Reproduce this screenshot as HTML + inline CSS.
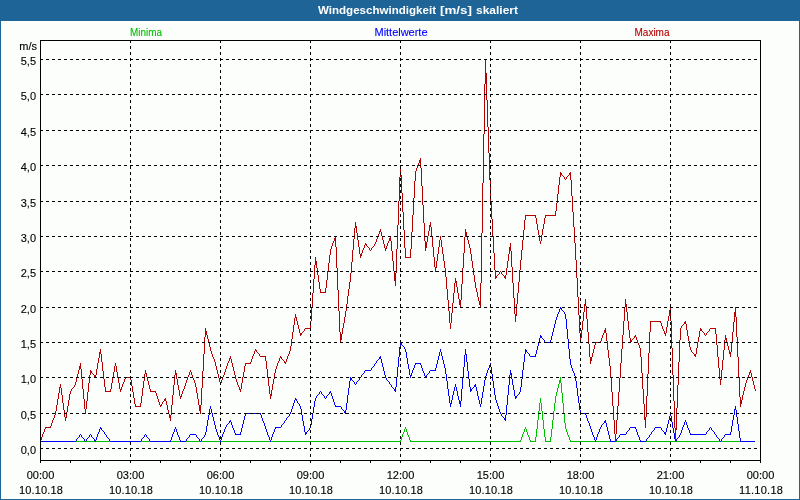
<!DOCTYPE html>
<html><head><meta charset="utf-8"><title>Windgeschwindigkeit</title>
<style>
html,body{margin:0;padding:0;width:800px;height:500px;overflow:hidden;background:#1E6496;}
svg{display:block;position:absolute;left:0;top:0;will-change:transform;}
text{font-family:"Liberation Sans",sans-serif;font-size:11px;fill:#000;stroke:#000;stroke-width:0.12px;}
.t{font-weight:bold;fill:#fff;stroke:none;}
.g{stroke:#000;stroke-width:1;stroke-dasharray:3 3;fill:none;}
</style></head><body>
<svg width="800" height="500" viewBox="0 0 800 500" shape-rendering="crispEdges">
<rect x="0" y="0" width="800" height="500" fill="#1E6496"/>
<rect x="1" y="21" width="798" height="478" fill="#FBFEFB"/>
<text class="t" x="318" y="14" textLength="118" lengthAdjust="spacingAndGlyphs">Windgeschwindigkeit</text>
<text class="t" x="440" y="14" textLength="32" lengthAdjust="spacingAndGlyphs">[m/s]</text>
<text class="t" x="476" y="14" textLength="42" lengthAdjust="spacingAndGlyphs">skaliert</text>
<text x="130" y="36" style="fill:#00C000;stroke:#00C000" textLength="32" lengthAdjust="spacingAndGlyphs">Minima</text>
<text x="374.5" y="36" style="fill:#0000FF;stroke:#0000FF" textLength="53" lengthAdjust="spacing">Mittelwerte</text>
<text x="634.5" y="36" style="fill:#B40000;stroke:#B40000" textLength="35" lengthAdjust="spacingAndGlyphs">Maxima</text>
<path fill="#00C000" d="M40 441h361v1h-361zM410 441h111v1h-111zM530 441h6v1h-6zM545 441h6v1h-6zM570 441h185v1h-185zM559 381h2v1h-2zM559 382h2v1h-2zM559 380h2v1h-2zM554 403v8h1v-8zM553 411v9h1v-9zM543 420v9h1v-9zM565 423v6h1v-6zM558 384v4h1v-4zM555 396v7h1v-7zM537 420v9h1v-9zM541 403v8h1v-8zM521 437v3h1v-3zM535 437v4h1v-4zM564 413v10h1v-10zM568 435v2h1v-2zM536 429v8h1v-8zM542 411v9h1v-9zM562 393v10h1v-10zM552 420v9h1v-9zM539 403v8h1v-8zM550 437v4h1v-4zM528 435v2h1v-2zM561 383v10h1v-10zM544 429v8h1v-8zM525 427v2h1v-2zM563 403v10h1v-10zM520 440v1h1v-1zM557 388v4h1v-4zM406 429v3h1v-3zM551 429v8h1v-8zM566 429v3h1v-3zM403 432v2h1v-2zM409 437v3h1v-3zM556 392v4h1v-4zM529 437v3h1v-3zM569 437v3h1v-3zM545 437v4h1v-4zM538 411v9h1v-9zM401 437v3h1v-3zM523 432v2h1v-2zM567 432v3h1v-3zM410 440v1h1v-1zM402 434v3h1v-3zM407 432v3h1v-3zM527 432v3h1v-3zM559 383v1h1v-1zM560 377v3h1v-3zM408 435v2h1v-2zM405 427v2h1v-2zM570 440v1h1v-1zM540 398v5h1v-5zM404 429v3h1v-3zM524 429v3h1v-3zM526 429v3h1v-3zM522 434v3h1v-3zM400 440v1h1v-1zM530 440v1h1v-1z"/>
<path fill="#0000FF" d="M344 412h2v1h-2zM335 406h6v1h-6zM504 419h2v1h-2zM40 441h36v1h-36zM110 441h31v1h-31zM150 441h21v1h-21zM180 441h6v1h-6zM610 441h6v1h-6zM640 441h6v1h-6zM740 441h15v1h-15zM394 389h2v1h-2zM470 389h2v1h-2zM675 439h2v1h-2zM515 397h2v1h-2zM305 433h2v1h-2zM664 433h2v1h-2zM365 370h6v1h-6zM430 370h6v1h-6zM604 422h2v1h-2zM410 375h2v1h-2zM425 376h2v1h-2zM510 373h2v1h-2zM465 354h2v1h-2zM525 351h2v1h-2zM94 440h2v1h-2zM675 440h2v1h-2zM305 432h2v1h-2zM664 432h2v1h-2zM394 390h2v1h-2zM470 390h2v1h-2zM474 386h2v1h-2zM275 427h6v1h-6zM630 427h6v1h-6zM655 427h6v1h-6zM400 343h2v1h-2zM459 401h2v1h-2zM190 434h6v1h-6zM235 434h6v1h-6zM620 434h6v1h-6zM690 434h16v1h-16zM725 434h6v1h-6zM504 418h2v1h-2zM400 344h2v1h-2zM415 363h6v1h-6zM350 378h2v1h-2zM245 413h16v1h-16zM580 413h6v1h-6zM489 366h2v1h-2zM510 374h2v1h-2zM229 421h2v1h-2zM604 421h2v1h-2zM540 336h2v1h-2zM515 396h2v1h-2zM459 402h2v1h-2zM474 385h2v1h-2zM350 379h2v1h-2zM329 392h2v1h-2zM489 365h2v1h-2zM100 428h2v1h-2zM525 350h2v1h-2zM734 409h2v1h-2zM545 342h6v1h-6zM379 358h2v1h-2zM379 357h2v1h-2zM450 403h2v1h-2zM459 403h2v1h-2zM530 356h6v1h-6zM295 399h2v1h-2zM560 308h2v1h-2zM540 337h2v1h-2zM344 411h2v1h-2zM491 367v7h1v-7zM292 406v3h1v-3zM314 401v6h1v-6zM311 419v6h1v-6zM577 388v8h1v-8zM494 388v7h1v-7zM94 439v1h1v-1zM721 439v2h1v-2zM690 433v1h1v-1zM487 370v3h1v-3zM682 427v3h1v-3zM219 437v3h1v-3zM588 421v2h1v-2zM468 371v8h1v-8zM509 375v10h1v-10zM445 368v6h1v-6zM599 429v3h1v-3zM529 354v2h1v-2zM465 349v5h1v-5zM86 439v2h1v-2zM706 432v2h1v-2zM521 379v8h1v-8zM98 432v2h1v-2zM456 387v4h1v-4zM668 420v4h1v-4zM357 381v1h1v-1zM464 355v12h1v-12zM537 346v4h1v-4zM177 432v3h1v-3zM732 420v6h1v-6zM570 359v6h1v-6zM93 438v1h1v-1zM216 429v3h1v-3zM607 427v4h1v-4zM234 430v3h1v-3zM349 381v7h1v-7zM736 410v7h1v-7zM674 433v6h1v-6zM212 413v4h1v-4zM683 425v2h1v-2zM552 332v4h1v-4zM510 370v3h1v-3zM407 358v6h1v-6zM373 366v1h1v-1zM310 425v3h1v-3zM606 423v4h1v-4zM208 415v5h1v-5zM574 373v3h1v-3zM82 437v1h1v-1zM567 329v10h1v-10zM272 434v3h1v-3zM241 428v4h1v-4zM303 421v5h1v-5zM651 432v2h1v-2zM482 392v6h1v-6zM383 367v4h1v-4zM540 335v1h1v-1zM222 434v3h1v-3zM467 362v9h1v-9zM640 440v1h1v-1zM384 371v4h1v-4zM89 435v2h1v-2zM478 396v4h1v-4zM716 435v2h1v-2zM544 340v2h1v-2zM739 431v7h1v-7zM196 435v2h1v-2zM719 439v2h1v-2zM146 435v2h1v-2zM493 381v7h1v-7zM448 389v7h1v-7zM441 352v4h1v-4zM81 435v2h1v-2zM720 441v1h1v-1zM399 347v10h1v-10zM636 429v3h1v-3zM451 400v3h1v-3zM188 437v1h1v-1zM348 388v7h1v-7zM463 367v11h1v-11zM242 424v4h1v-4zM447 381v8h1v-8zM97 434v3h1v-3zM376 361v2h1v-2zM519 392v2h1v-2zM100 427v1h1v-1zM333 399v3h1v-3zM731 426v6h1v-6zM667 424v4h1v-4zM689 430v3h1v-3zM666 428v4h1v-4zM104 432v2h1v-2zM462 378v11h1v-11zM371 368v2h1v-2zM481 398v6h1v-6zM218 435v2h1v-2zM587 418v3h1v-3zM261 415v3h1v-3zM302 415v6h1v-6zM422 368v3h1v-3zM414 365v3h1v-3zM410 376v2h1v-2zM671 416v6h1v-6zM455 384v3h1v-3zM149 439v2h1v-2zM738 424v7h1v-7zM267 432v3h1v-3zM598 432v2h1v-2zM499 409v3h1v-3zM409 369v6h1v-6zM77 438v1h1v-1zM591 429v3h1v-3zM539 338v4h1v-4zM461 389v12h1v-12zM576 381v7h1v-7zM398 357v10h1v-10zM512 379v6h1v-6zM524 354v8h1v-8zM470 387v2h1v-2zM470 391v1h1v-1zM207 420v6h1v-6zM263 421v2h1v-2zM356 382v2h1v-2zM274 429v3h1v-3zM536 350v4h1v-4zM211 409v4h1v-4zM609 435v4h1v-4zM424 373v3h1v-3zM397 367v10h1v-10zM436 364v4h1v-4zM172 434v3h1v-3zM511 375v4h1v-4zM508 385v10h1v-10zM555 320v4h1v-4zM309 428v2h1v-2zM573 371v2h1v-2zM469 379v8h1v-8zM559 309v3h1v-3zM176 429v3h1v-3zM450 404v3h1v-3zM522 370v9h1v-9zM639 437v3h1v-3zM608 431v4h1v-4zM473 387v1h1v-1zM402 345v1h1v-1zM271 437v3h1v-3zM240 432v2h1v-2zM723 437v1h1v-1zM95 441v1h1v-1zM221 437v3h1v-3zM99 429v3h1v-3zM233 428v2h1v-2zM444 364v4h1v-4zM352 380v1h1v-1zM507 395v10h1v-10zM385 375v3h1v-3zM480 404v3h1v-3zM449 396v7h1v-7zM492 374v7h1v-7zM566 319v10h1v-10zM226 425v2h1v-2zM440 349v3h1v-3zM386 378v2h1v-2zM523 362v8h1v-8zM144 435v2h1v-2zM406 352v6h1v-6zM206 426v6h1v-6zM313 407v6h1v-6zM359 378v2h1v-2zM443 360v4h1v-4zM680 433v2h1v-2zM282 424v1h1v-1zM597 434v3h1v-3zM412 370v3h1v-3zM454 387v4h1v-4zM466 355v7h1v-7zM735 406v3h1v-3zM684 422v3h1v-3zM405 349v3h1v-3zM569 349v10h1v-10zM542 338v1h1v-1zM96 437v3h1v-3zM579 403v7h1v-7zM76 439v2h1v-2zM673 428v5h1v-5zM543 339v1h1v-1zM217 432v3h1v-3zM718 438v1h1v-1zM321 392v2h1v-2zM477 391v5h1v-5zM427 374v1h1v-1zM458 396v4h1v-4zM538 342v4h1v-4zM317 395v1h1v-1zM578 396v7h1v-7zM669 416v4h1v-4zM84 439v2h1v-2zM476 387v4h1v-4zM681 430v3h1v-3zM506 405v10h1v-10zM413 368v2h1v-2zM435 368v2h1v-2zM565 314v5h1v-5zM619 435v2h1v-2zM554 324v4h1v-4zM457 391v5h1v-5zM301 409v6h1v-6zM269 437v3h1v-3zM558 312v2h1v-2zM568 339v10h1v-10zM627 431v1h1v-1zM141 439v2h1v-2zM332 396v3h1v-3zM262 418v3h1v-3zM514 390v6h1v-6zM688 428v2h1v-2zM270 440v2h1v-2zM293 403v3h1v-3zM734 410v5h1v-5zM197 437v1h1v-1zM649 435v2h1v-2zM423 371v2h1v-2zM347 395v8h1v-8zM711 428v2h1v-2zM106 435v2h1v-2zM243 420v4h1v-4zM586 415v3h1v-3zM495 395v5h1v-5zM213 417v4h1v-4zM273 432v2h1v-2zM661 428v2h1v-2zM205 432v3h1v-3zM171 437v3h1v-3zM446 374v7h1v-7zM737 417v7h1v-7zM592 432v3h1v-3zM266 429v3h1v-3zM396 377v10h1v-10zM665 434v1h1v-1zM575 376v5h1v-5zM175 427v2h1v-2zM312 413v6h1v-6zM498 406v3h1v-3zM378 359v1h1v-1zM679 435v2h1v-2zM281 425v2h1v-2zM596 437v3h1v-3zM201 439v2h1v-2zM484 380v6h1v-6zM232 425v3h1v-3zM453 391v4h1v-4zM362 374v1h1v-1zM572 368v3h1v-3zM439 352v4h1v-4zM79 435v2h1v-2zM442 356v4h1v-4zM408 364v5h1v-5zM637 432v3h1v-3zM707 431v1h1v-1zM346 403v7h1v-7zM404 347v2h1v-2zM350 377v1h1v-1zM350 380v1h1v-1zM638 435v2h1v-2zM304 426v6h1v-6zM411 373v2h1v-2zM328 394v1h1v-1zM479 400v4h1v-4zM388 381v1h1v-1zM460 404v3h1v-3zM483 386v6h1v-6zM672 422v6h1v-6zM381 359v4h1v-4zM189 435v2h1v-2zM316 396v2h1v-2zM297 401v2h1v-2zM300 406v3h1v-3zM341 407v2h1v-2zM686 422v3h1v-3zM438 356v4h1v-4zM459 400v1h1v-1zM173 432v2h1v-2zM513 385v5h1v-5zM710 427v1h1v-1zM342 409v1h1v-1zM687 425v3h1v-3zM354 382v2h1v-2zM585 414v1h1v-1zM626 432v2h1v-2zM557 314v3h1v-3zM209 409v6h1v-6zM323 395v1h1v-1zM284 421v2h1v-2zM452 395v5h1v-5zM391 385v2h1v-2zM733 415v5h1v-5zM85 441v1h1v-1zM497 403v3h1v-3zM265 426v3h1v-3zM520 387v5h1v-5zM392 387v1h1v-1zM215 425v4h1v-4zM490 363v2h1v-2zM429 371v2h1v-2zM326 396v2h1v-2zM400 342v1h1v-1zM400 345v2h1v-2zM594 437v3h1v-3zM268 435v2h1v-2zM174 429v3h1v-3zM501 414v2h1v-2zM595 440v2h1v-2zM199 439v2h1v-2zM108 438v1h1v-1zM663 431v1h1v-1zM200 441v1h1v-1zM319 392v2h1v-2zM426 375v1h1v-1zM109 439v2h1v-2zM264 423v3h1v-3zM361 375v2h1v-2zM395 387v2h1v-2zM395 391v1h1v-1zM525 349v1h1v-1zM525 352v2h1v-2zM629 428v2h1v-2zM315 398v3h1v-3zM180 440v1h1v-1zM334 402v3h1v-3zM580 410v3h1v-3zM556 317v3h1v-3zM291 409v3h1v-3zM187 438v1h1v-1zM485 376v4h1v-4zM295 398v1h1v-1zM287 417v1h1v-1zM364 371v2h1v-2zM437 360v4h1v-4zM709 428v2h1v-2zM551 336v4h1v-4zM563 311v1h1v-1zM528 353v1h1v-1zM298 403v1h1v-1zM486 373v3h1v-3zM564 312v2h1v-2zM602 424v1h1v-1zM245 414v2h1v-2zM299 404v2h1v-2zM500 412v2h1v-2zM421 365v3h1v-3zM670 413v3h1v-3zM325 398v1h1v-1zM308 430v1h1v-1zM496 400v3h1v-3zM590 426v3h1v-3zM654 428v2h1v-2zM425 377v1h1v-1zM214 421v4h1v-4zM722 438v1h1v-1zM210 406v3h1v-3zM179 437v3h1v-3zM502 416v1h1v-1zM628 430v1h1v-1zM503 417v1h1v-1zM286 418v2h1v-2zM275 428v1h1v-1zM715 434v1h1v-1zM225 427v2h1v-2zM290 412v2h1v-2zM186 439v2h1v-2zM294 400v3h1v-3zM601 425v2h1v-2zM488 368v2h1v-2zM244 416v4h1v-4zM374 364v2h1v-2zM202 438v1h1v-1zM535 354v2h1v-2zM730 432v2h1v-2zM145 434v1h1v-1zM382 363v4h1v-4zM685 420v2h1v-2zM740 438v3h1v-3zM220 440v2h1v-2zM589 423v3h1v-3zM170 440v1h1v-1zM224 429v3h1v-3zM331 393v3h1v-3zM90 434v1h1v-1zM345 410v1h1v-1zM345 413v1h1v-1zM289 414v2h1v-2zM593 435v2h1v-2zM91 435v2h1v-2zM650 434v1h1v-1zM377 360v1h1v-1zM713 431v1h1v-1zM505 415v3h1v-3zM505 420v1h1v-1zM327 395v1h1v-1zM571 365v3h1v-3zM714 432v2h1v-2zM717 437v1h1v-1zM600 427v2h1v-2zM415 364v1h1v-1zM235 433v1h1v-1zM724 435v2h1v-2zM231 422v3h1v-3zM553 328v4h1v-4zM227 424v1h1v-1zM603 423v1h1v-1zM204 435v2h1v-2zM610 439v2h1v-2zM360 377v1h1v-1zM330 391v1h1v-1zM142 438v1h1v-1zM318 394v1h1v-1zM230 420v1h1v-1zM617 438v1h1v-1zM708 430v1h1v-1zM80 434v1h1v-1zM647 438v1h1v-1zM387 380v1h1v-1zM329 393v1h1v-1zM677 438v1h1v-1zM260 414v1h1v-1zM515 398v1h1v-1zM229 422v1h1v-1zM616 439v2h1v-2zM103 431v1h1v-1zM107 437v1h1v-1zM662 430v1h1v-1zM646 439v2h1v-2zM518 394v1h1v-1zM285 420v1h1v-1zM88 437v1h1v-1zM550 340v2h1v-2zM320 391v1h1v-1zM489 367v1h1v-1zM375 363v1h1v-1zM324 396v2h1v-2zM83 438v1h1v-1zM389 382v2h1v-2zM561 309v1h1v-1zM288 416v1h1v-1zM562 310v1h1v-1zM527 352v1h1v-1zM105 434v1h1v-1zM178 435v2h1v-2zM143 437v1h1v-1zM358 380v1h1v-1zM648 437v1h1v-1zM475 384v1h1v-1zM296 400v1h1v-1zM403 346v1h1v-1zM652 431v1h1v-1zM203 437v1h1v-1zM322 394v1h1v-1zM223 432v2h1v-2zM353 381v1h1v-1zM390 384v1h1v-1zM560 307v1h1v-1zM78 437v1h1v-1zM198 438v1h1v-1zM712 430v1h1v-1zM678 437v1h1v-1zM372 367v1h1v-1zM305 434v1h1v-1zM428 373v1h1v-1zM605 420v1h1v-1zM380 356v1h1v-1zM283 423v1h1v-1zM343 410v1h1v-1zM355 384v1h1v-1zM92 437v1h1v-1zM393 388v1h1v-1zM228 423v1h1v-1zM420 364v1h1v-1zM335 405v1h1v-1zM87 438v1h1v-1zM635 428v1h1v-1zM472 388v1h1v-1zM517 395v1h1v-1zM363 373v1h1v-1zM675 441v1h1v-1zM618 437v1h1v-1zM307 431v1h1v-1zM653 430v1h1v-1zM101 429v1h1v-1zM102 430v1h1v-1zM147 437v1h1v-1zM148 438v1h1v-1z"/>
<path fill="#B40000" d="M315 261h2v1h-2zM315 264h2v1h-2zM220 382h2v1h-2zM205 333h2v1h-2zM300 333h2v1h-2zM580 333h2v1h-2zM664 333h2v1h-2zM94 375h2v1h-2zM105 391h6v1h-6zM150 391h6v1h-6zM59 387h2v1h-2zM455 281h2v1h-2zM205 331h2v1h-2zM604 331h2v1h-2zM120 389h2v1h-2zM239 389h2v1h-2zM270 395h2v1h-2zM515 315h2v1h-2zM669 315h2v1h-2zM734 315h2v1h-2zM525 215h11v1h-11zM545 215h11v1h-11zM604 330h2v1h-2zM700 330h2v1h-2zM205 332h2v1h-2zM604 332h2v1h-2zM305 328h6v1h-6zM710 328h6v1h-6zM340 337h2v1h-2zM580 337h2v1h-2zM199 407h2v1h-2zM394 278h2v1h-2zM135 406h6v1h-6zM199 406h2v1h-2zM394 277h2v1h-2zM495 277h2v1h-2zM504 277h2v1h-2zM560 174h2v1h-2zM569 174h2v1h-2zM255 350h2v1h-2zM394 275h2v1h-2zM455 282h2v1h-2zM355 227h2v1h-2zM270 394h2v1h-2zM394 276h2v1h-2zM495 276h2v1h-2zM504 276h2v1h-2zM79 368h2v1h-2zM199 410h2v1h-2zM229 358h2v1h-2zM590 358h2v1h-2zM365 244h2v1h-2zM425 244h2v1h-2zM79 366h2v1h-2zM334 239h2v1h-2zM389 239h2v1h-2zM630 341h2v1h-2zM320 292h6v1h-6zM425 243h2v1h-2zM280 357h2v1h-2zM590 357h2v1h-2zM360 255h2v1h-2zM334 238h2v1h-2zM389 238h2v1h-2zM145 373h2v1h-2zM175 373h2v1h-2zM295 317h2v1h-2zM694 354h2v1h-2zM459 302h2v1h-2zM479 302h2v1h-2zM385 248h2v1h-2zM509 248h2v1h-2zM405 257h6v1h-6zM90 372h2v1h-2zM749 372h2v1h-2zM465 235h2v1h-2zM694 355h2v1h-2zM669 311h2v1h-2zM79 367h2v1h-2zM315 263h2v1h-2zM625 306h2v1h-2zM425 245h2v1h-2zM125 377h6v1h-6zM245 363h6v1h-6zM459 304h2v1h-2zM479 304h2v1h-2zM584 304h2v1h-2zM625 304h2v1h-2zM90 371h2v1h-2zM394 274h2v1h-2zM700 329h2v1h-2zM394 273h2v1h-2zM429 225h2v1h-2zM340 336h2v1h-2zM580 336h2v1h-2zM634 336h2v1h-2zM340 338h2v1h-2zM725 338h2v1h-2zM740 402h2v1h-2zM419 162h2v1h-2zM595 342h6v1h-6zM394 280h2v1h-2zM465 234h2v1h-2zM465 233h2v1h-2zM340 339h2v1h-2zM725 339h2v1h-2zM164 399h2v1h-2zM740 403h2v1h-2zM465 232h2v1h-2zM425 247h2v1h-2zM509 247h2v1h-2zM459 303h2v1h-2zM479 303h2v1h-2zM669 310h2v1h-2zM425 242h2v1h-2zM459 300h2v1h-2zM169 416h2v1h-2zM684 322h2v1h-2zM509 249h2v1h-2zM99 353h2v1h-2zM729 353h2v1h-2zM425 246h2v1h-2zM360 254h2v1h-2zM94 376h2v1h-2zM175 374h2v1h-2zM509 250h2v1h-2zM734 316h2v1h-2zM650 321h11v1h-11zM435 267h2v1h-2zM180 396h2v1h-2zM419 161h2v1h-2zM684 323h2v1h-2zM199 409h2v1h-2zM394 279h2v1h-2zM560 173h2v1h-2zM569 173h2v1h-2zM99 352h2v1h-2zM729 352h2v1h-2zM260 356h6v1h-6zM169 415h2v1h-2zM590 360h2v1h-2zM459 301h2v1h-2zM479 301h2v1h-2zM669 313h2v1h-2zM734 313h2v1h-2zM485 76h2v1h-2zM379 231h2v1h-2zM630 340h2v1h-2zM164 400h2v1h-2zM740 400h2v1h-2zM340 335h2v1h-2zM580 335h2v1h-2zM160 405h2v1h-2zM199 405h2v1h-2zM740 401h2v1h-2zM355 226h2v1h-2zM429 226h2v1h-2zM65 417h2v1h-2zM169 417h2v1h-2zM644 417h2v1h-2zM669 312h2v1h-2zM734 312h2v1h-2zM590 359h2v1h-2zM400 175h2v1h-2zM720 379h2v1h-2zM334 240h2v1h-2zM389 240h2v1h-2zM400 176h2v1h-2zM485 75h2v1h-2zM45 427h6v1h-6zM315 262h2v1h-2zM485 78h2v1h-2zM205 334h2v1h-2zM300 334h2v1h-2zM340 334h2v1h-2zM580 334h2v1h-2zM644 419h2v1h-2zM515 314h2v1h-2zM669 314h2v1h-2zM734 314h2v1h-2zM284 362h2v1h-2zM485 77h2v1h-2zM675 429h2v1h-2zM485 80h2v1h-2zM584 305h2v1h-2zM625 305h2v1h-2zM644 418h2v1h-2zM199 408h2v1h-2zM485 79h2v1h-2zM485 82h2v1h-2zM675 428h2v1h-2zM485 81h2v1h-2zM485 83h2v1h-2zM485 73h2v1h-2zM419 160h2v1h-2zM485 74h2v1h-2zM434 257v10h1v-10zM520 260v10h1v-10zM197 393v6h1v-6zM340 332v2h1v-2zM340 340v3h1v-3zM642 373v16h1v-16zM619 378v14h1v-14zM88 383v9h1v-9zM611 378v14h1v-14zM456 283v4h1v-4zM68 400v6h1v-6zM577 278v19h1v-19zM450 323v6h1v-6zM463 253v15h1v-15zM587 319v13h1v-13zM83 389v10h1v-10zM572 196v16h1v-16zM671 321v27h1v-27zM484 84v50h1v-50zM487 100v27h1v-27zM519 270v12h1v-12zM579 315v18h1v-18zM87 392v9h1v-9zM64 410v7h1v-7zM716 334v11h1v-11zM56 405v6h1v-6zM512 267v16h1v-16zM335 236v2h1v-2zM335 241v6h1v-6zM462 268v16h1v-16zM594 345v4h1v-4zM290 346v5h1v-5zM505 275v1h1v-1zM505 278v1h1v-1zM337 268v22h1v-22zM403 212v18h1v-18zM348 289v7h1v-7zM740 397v3h1v-3zM740 404v3h1v-3zM201 388v17h1v-17zM574 227v16h1v-16zM461 284v16h1v-16zM576 260v18h1v-18zM644 404v13h1v-13zM281 358v1h1v-1zM454 283v10h1v-10zM489 153v27h1v-27zM411 232v17h1v-17zM618 392v14h1v-14zM114 366v6h1v-6zM353 239v11h1v-11zM400 165v10h1v-10zM726 340v2h1v-2zM696 348v6h1v-6zM737 337v20h1v-20zM200 411v3h1v-3zM674 401v27h1v-27zM277 363v3h1v-3zM458 293v6h1v-6zM227 363v3h1v-3zM441 240v7h1v-7zM639 345v3h1v-3zM102 362v9h1v-9zM391 241v10h1v-10zM518 282v11h1v-11zM410 249v8h1v-8zM589 344v13h1v-13zM608 350v8h1v-8zM352 250v12h1v-12zM467 236v4h1v-4zM189 372v3h1v-3zM425 241v1h1v-1zM425 248v3h1v-3zM213 357v2h1v-2zM483 134v49h1v-49zM480 283v18h1v-18zM480 305v3h1v-3zM339 311v21h1v-21zM592 353v4h1v-4zM625 299v5h1v-5zM470 248v6h1v-6zM481 233v50h1v-50zM613 406v14h1v-14zM539 235v6h1v-6zM679 340v22h1v-22zM216 366v4h1v-4zM571 180v16h1v-16zM670 307v3h1v-3zM670 316v5h1v-5zM648 353v21h1v-21zM347 296v8h1v-8zM143 381v7h1v-7zM586 306v13h1v-13zM672 348v27h1v-27zM578 297v18h1v-18zM60 384v3h1v-3zM490 180v22h1v-22zM186 380v3h1v-3zM641 357v16h1v-16zM219 378v4h1v-4zM486 84v16h1v-16zM511 251v16h1v-16zM436 261v6h1v-6zM488 127v26h1v-26zM493 236v17h1v-17zM449 311v12h1v-12zM336 247v21h1v-21zM718 357v11h1v-11zM624 307v14h1v-14zM402 193v19h1v-19zM514 298v16h1v-16zM82 379v10h1v-10zM329 255v8h1v-8zM174 375v10h1v-10zM507 261v7h1v-7zM721 370v9h1v-9zM405 248v9h1v-9zM234 371v4h1v-4zM398 201v24h1v-24zM623 321v14h1v-14zM172 395v10h1v-10zM422 186v19h1v-19zM414 181v17h1v-17zM482 183v50h1v-50zM443 254v7h1v-7zM751 373v4h1v-4zM104 379v8h1v-8zM734 317v5h1v-5zM733 322v10h1v-10zM241 383v6h1v-6zM610 366v12h1v-12zM703 332v1h1v-1zM650 322v10h1v-10zM736 317v20h1v-20zM499 272v2h1v-2zM573 212v15h1v-15zM297 321v4h1v-4zM627 312v9h1v-9zM150 389v2h1v-2zM524 220v10h1v-10zM356 228v5h1v-5zM59 388v5h1v-5zM342 328v6h1v-6zM317 268v7h1v-7zM413 198v17h1v-17zM732 332v10h1v-10zM649 332v21h1v-21zM415 171v10h1v-10zM198 399v6h1v-6zM319 282v7h1v-7zM393 261v10h1v-10zM607 341v9h1v-9zM271 390v4h1v-4zM62 395v8h1v-8zM351 262v11h1v-11zM446 277v12h1v-12zM204 337v17h1v-17zM457 287v6h1v-6zM523 230v10h1v-10zM313 279v14h1v-14zM291 339v7h1v-7zM101 354v8h1v-8zM412 215v17h1v-17zM431 227v10h1v-10zM739 377v20h1v-20zM637 340v3h1v-3zM629 330v8h1v-8zM595 343v2h1v-2zM647 374v22h1v-22zM432 237v10h1v-10zM424 223v18h1v-18zM724 340v10h1v-10zM630 338v2h1v-2zM630 342v1h1v-1zM382 236v4h1v-4zM588 332v12h1v-12zM742 395v5h1v-5zM453 293v10h1v-10zM640 348v9h1v-9zM492 219v17h1v-17zM706 333v2h1v-2zM97 363v6h1v-6zM212 354v3h1v-3zM312 293v14h1v-14zM513 283v15h1v-15zM399 177v24h1v-24zM677 385v23h1v-23zM448 300v11h1v-11zM643 389v15h1v-15zM646 396v21h1v-21zM404 230v18h1v-18zM538 230v5h1v-5zM452 303v10h1v-10zM331 246v3h1v-3zM397 225v24h1v-24zM517 293v11h1v-11zM374 244v2h1v-2zM286 359v3h1v-3zM421 168v18h1v-18zM621 349v14h1v-14zM203 354v17h1v-17zM590 361v3h1v-3zM697 342v6h1v-6zM279 358v3h1v-3zM245 364v2h1v-2zM311 307v14h1v-14zM358 240v7h1v-7zM338 290v21h1v-21zM81 369v10h1v-10zM678 362v23h1v-23zM516 304v10h1v-10zM620 363v15h1v-15zM388 241v2h1v-2zM118 378v5h1v-5zM233 367v4h1v-4zM522 240v10h1v-10zM575 243v17h1v-17zM310 321v7h1v-7zM202 371v17h1v-17zM464 237v16h1v-16zM557 194v9h1v-9zM494 253v17h1v-17zM433 247v10h1v-10zM719 368v11h1v-11zM344 317v6h1v-6zM295 314v3h1v-3zM485 59v14h1v-14zM468 240v4h1v-4zM676 408v20h1v-20zM723 350v10h1v-10zM392 251v10h1v-10zM73 387v1h1v-1zM274 373v6h1v-6zM510 243v4h1v-4zM521 250v10h1v-10zM298 325v4h1v-4zM584 306v6h1v-6zM738 357v20h1v-20zM267 369v9h1v-9zM396 249v24h1v-24zM437 254v7h1v-7zM217 370v4h1v-4zM673 375v26h1v-26zM423 205v18h1v-18zM675 430v12h1v-12zM722 360v10h1v-10zM69 394v6h1v-6zM61 388v7h1v-7zM176 375v4h1v-4zM451 313v10h1v-10zM220 383v2h1v-2zM744 387v4h1v-4zM667 321v6h1v-6zM182 391v3h1v-3zM132 386v6h1v-6zM141 396v7h1v-7zM133 392v6h1v-6zM636 337v3h1v-3zM474 275v7h1v-7zM343 323v5h1v-5zM289 351v3h1v-3zM166 401v4h1v-4zM354 228v11h1v-11zM357 233v7h1v-7zM100 349v3h1v-3zM743 391v4h1v-4zM63 403v7h1v-7zM66 412v5h1v-5zM259 354v2h1v-2zM383 240v4h1v-4zM476 288v4h1v-4zM360 256v2h1v-2zM288 354v2h1v-2zM147 377v4h1v-4zM375 242v2h1v-2zM559 177v8h1v-8zM90 370v1h1v-1zM90 373v2h1v-2zM268 378v8h1v-8zM284 361v1h1v-1zM508 254v7h1v-7zM558 185v9h1v-9zM359 247v7h1v-7zM173 385v10h1v-10zM473 268v7h1v-7zM661 323v3h1v-3zM242 377v6h1v-6zM192 375v3h1v-3zM237 382v3h1v-3zM707 332v1h1v-1zM304 329v2h1v-2zM754 385v4h1v-4zM746 380v3h1v-3zM668 316v5h1v-5zM687 330v6h1v-6zM142 388v8h1v-8zM58 393v6h1v-6zM292 332v7h1v-7zM680 328v12h1v-12zM350 273v9h1v-9zM179 390v6h1v-6zM725 335v3h1v-3zM98 358v5h1v-5zM465 229v3h1v-3zM465 236v1h1v-1zM622 335v14h1v-14zM580 338v5h1v-5zM84 399v10h1v-10zM617 406v14h1v-14zM171 405v10h1v-10zM606 333v8h1v-8zM540 241v3h1v-3zM244 366v6h1v-6zM689 341v6h1v-6zM77 374v4h1v-4zM229 359v2h1v-2zM645 420v8h1v-8zM362 250v3h1v-3zM447 289v11h1v-11zM315 257v4h1v-4zM119 383v6h1v-6zM226 366v3h1v-3zM95 377v1h1v-1zM40 440v2h1v-2zM471 254v7h1v-7zM314 265v14h1v-14zM583 312v9h1v-9zM614 420v14h1v-14zM178 385v5h1v-5zM491 202v17h1v-17zM582 321v9h1v-9zM666 327v6h1v-6zM57 399v6h1v-6zM612 392v14h1v-14zM210 347v4h1v-4zM349 282v7h1v-7zM556 203v8h1v-8zM420 158v2h1v-2zM420 163v5h1v-5zM525 216v4h1v-4zM86 401v8h1v-8zM501 272v2h1v-2zM497 275v1h1v-1zM455 278v3h1v-3zM158 399v3h1v-3zM755 389v2h1v-2zM167 405v5h1v-5zM169 414v1h1v-1zM325 288v4h1v-4zM209 343v4h1v-4zM543 224v5h1v-5zM265 357v4h1v-4zM729 350v2h1v-2zM333 241v2h1v-2zM717 345v12h1v-12zM223 375v2h1v-2zM293 325v7h1v-7zM185 383v3h1v-3zM177 379v6h1v-6zM116 366v6h1v-6zM330 249v6h1v-6zM616 420v14h1v-14zM113 372v5h1v-5zM112 377v6h1v-6zM615 434v8h1v-8zM328 263v8h1v-8zM42 434v3h1v-3zM74 385v2h1v-2zM502 274v1h1v-1zM503 275v1h1v-1zM495 270v6h1v-6zM495 278v1h1v-1zM238 385v2h1v-2zM445 268v9h1v-9zM105 387v4h1v-4zM157 396v3h1v-3zM603 333v2h1v-2zM184 386v3h1v-3zM472 261v7h1v-7zM395 281v5h1v-5zM728 346v4h1v-4zM134 398v6h1v-6zM475 282v6h1v-6zM702 331v1h1v-1zM418 163v2h1v-2zM253 354v2h1v-2zM355 222v4h1v-4zM566 177v2h1v-2zM469 244v4h1v-4zM326 280v8h1v-8zM282 359v1h1v-1zM218 374v4h1v-4zM283 360v1h1v-1zM170 418v3h1v-3zM731 342v10h1v-10zM609 358v8h1v-8zM438 247v7h1v-7zM275 369v4h1v-4zM401 177v16h1v-16zM194 380v3h1v-3zM749 373v2h1v-2zM144 374v7h1v-7zM187 377v3h1v-3zM294 318v7h1v-7zM239 387v2h1v-2zM327 271v9h1v-9zM444 261v7h1v-7zM686 324v6h1v-6zM269 386v8h1v-8zM628 321v9h1v-9zM735 307v5h1v-5zM715 329v5h1v-5zM544 218v6h1v-6zM536 218v6h1v-6zM135 404v2h1v-2zM704 333v2h1v-2zM748 375v2h1v-2zM272 384v6h1v-6zM681 326v2h1v-2zM318 275v7h1v-7zM159 402v3h1v-3zM429 227v4h1v-4zM51 423v3h1v-3zM440 236v4h1v-4zM254 351v3h1v-3zM570 172v1h1v-1zM570 175v5h1v-5zM266 361v8h1v-8zM43 432v2h1v-2zM387 243v3h1v-3zM563 176v1h1v-1zM564 177v2h1v-2zM89 375v8h1v-8zM79 369v1h1v-1zM346 304v7h1v-7zM371 248v2h1v-2zM435 268v4h1v-4zM363 248v2h1v-2zM117 372v6h1v-6zM439 240v7h1v-7zM276 366v3h1v-3zM442 247v7h1v-7zM345 311v6h1v-6zM506 268v7h1v-7zM699 331v6h1v-6zM270 396v3h1v-3zM581 330v3h1v-3zM427 236v6h1v-6zM537 224v6h1v-6zM541 235v6h1v-6zM115 363v3h1v-3zM103 371v8h1v-8zM122 384v3h1v-3zM191 372v3h1v-3zM515 316v6h1v-6zM96 369v6h1v-6zM225 369v3h1v-3zM236 379v3h1v-3zM240 390v2h1v-2zM121 387v2h1v-2zM555 211v4h1v-4zM477 292v5h1v-5zM162 402v2h1v-2zM416 168v3h1v-3zM205 328v3h1v-3zM205 335v2h1v-2zM99 354v4h1v-4zM390 236v2h1v-2zM67 406v6h1v-6zM380 229v2h1v-2zM691 350v2h1v-2zM638 343v2h1v-2zM567 176v1h1v-1zM215 362v4h1v-4zM593 349v4h1v-4zM235 375v4h1v-4zM193 378v2h1v-2zM222 377v3h1v-3zM78 370v4h1v-4zM131 380v6h1v-6zM585 299v5h1v-5zM460 305v3h1v-3zM146 374v3h1v-3zM720 380v5h1v-5zM296 318v3h1v-3zM188 375v2h1v-2zM70 391v3h1v-3zM168 410v4h1v-4zM160 406v1h1v-1zM545 216v2h1v-2zM208 339v4h1v-4zM690 347v3h1v-3zM663 329v2h1v-2zM664 331v2h1v-2zM377 236v3h1v-3zM214 359v3h1v-3zM417 165v3h1v-3zM562 175v1h1v-1zM332 243v3h1v-3zM478 297v4h1v-4zM53 418v2h1v-2zM287 356v3h1v-3zM76 378v4h1v-4zM45 428v1h1v-1zM145 370v3h1v-3zM384 244v4h1v-4zM376 239v3h1v-3zM148 381v4h1v-4zM626 307v5h1v-5zM175 370v3h1v-3zM92 373v1h1v-1zM110 389v2h1v-2zM372 247v1h1v-1zM509 251v3h1v-3zM745 383v4h1v-4zM207 335v4h1v-4zM75 382v3h1v-3zM662 326v3h1v-3zM140 403v3h1v-3zM71 389v2h1v-2zM752 377v4h1v-4zM601 338v3h1v-3zM364 245v3h1v-3zM231 359v4h1v-4zM228 361v2h1v-2zM542 229v6h1v-6zM386 246v2h1v-2zM560 172v1h1v-1zM560 175v2h1v-2zM367 246v1h1v-1zM124 379v3h1v-3zM149 385v4h1v-4zM498 274v1h1v-1zM299 329v4h1v-4zM747 377v3h1v-3zM660 322v1h1v-1zM381 232v4h1v-4zM211 351v3h1v-3zM65 418v3h1v-3zM430 222v3h1v-3zM52 420v3h1v-3zM602 335v3h1v-3zM373 246v1h1v-1zM369 248v2h1v-2zM232 363v4h1v-4zM243 372v5h1v-5zM727 342v4h1v-4zM44 429v3h1v-3zM459 299v1h1v-1zM72 388v1h1v-1zM224 372v3h1v-3zM41 437v3h1v-3zM682 325v1h1v-1zM221 380v2h1v-2zM394 271v2h1v-2zM665 334v2h1v-2zM120 390v2h1v-2zM165 398v1h1v-1zM85 409v5h1v-5zM300 335v1h1v-1zM688 336v5h1v-5zM428 231v5h1v-5zM320 289v3h1v-3zM634 337v1h1v-1zM379 232v2h1v-2zM750 370v2h1v-2zM111 383v6h1v-6zM195 383v4h1v-4zM753 381v4h1v-4zM709 329v2h1v-2zM80 363v3h1v-3zM366 245v1h1v-1zM278 361v2h1v-2zM730 354v3h1v-3zM273 379v5h1v-5zM181 394v2h1v-2zM196 387v6h1v-6zM55 411v4h1v-4zM155 392v1h1v-1zM180 397v2h1v-2zM535 216v2h1v-2zM258 353v1h1v-1zM385 249v2h1v-2zM54 415v3h1v-3zM698 337v5h1v-5zM123 382v2h1v-2zM316 265v3h1v-3zM156 393v3h1v-3zM683 324v1h1v-1zM252 356v3h1v-3zM361 253v1h1v-1zM190 370v2h1v-2zM251 359v3h1v-3zM368 247v1h1v-1zM500 271v1h1v-1zM605 328v2h1v-2zM378 234v2h1v-2zM695 356v1h1v-1zM280 356v1h1v-1zM130 378v2h1v-2zM183 389v2h1v-2zM633 338v1h1v-1zM256 351v1h1v-1zM257 352v1h1v-1zM705 335v1h1v-1zM125 378v1h1v-1zM93 374v1h1v-1zM230 356v2h1v-2zM50 426v1h1v-1zM303 331v1h1v-1zM632 339v1h1v-1zM250 362v1h1v-1zM700 328v1h1v-1zM685 321v1h1v-1zM600 341v1h1v-1zM161 404v1h1v-1zM693 353v1h1v-1zM285 363v1h1v-1zM365 243v1h1v-1zM255 349v1h1v-1zM565 179v1h1v-1zM635 335v1h1v-1zM692 352v1h1v-1zM302 332v1h1v-1zM708 331v1h1v-1zM163 401v1h1v-1zM568 175v1h1v-1zM370 250v1h1v-1z"/>
<g class="g">
<line x1="40" y1="448.5" x2="760" y2="448.5"/>
<line x1="40" y1="413.5" x2="760" y2="413.5"/>
<line x1="40" y1="377.5" x2="760" y2="377.5"/>
<line x1="40" y1="342.5" x2="760" y2="342.5"/>
<line x1="40" y1="307.5" x2="760" y2="307.5"/>
<line x1="40" y1="271.5" x2="760" y2="271.5"/>
<line x1="40" y1="236.5" x2="760" y2="236.5"/>
<line x1="40" y1="201.5" x2="760" y2="201.5"/>
<line x1="40" y1="165.5" x2="760" y2="165.5"/>
<line x1="40" y1="130.5" x2="760" y2="130.5"/>
<line x1="40" y1="94.5" x2="760" y2="94.5"/>
<line x1="40" y1="59.5" x2="760" y2="59.5"/>
<line x1="130.5" y1="40" x2="130.5" y2="460"/>
<line x1="220.5" y1="40" x2="220.5" y2="460"/>
<line x1="310.5" y1="40" x2="310.5" y2="460"/>
<line x1="400.5" y1="40" x2="400.5" y2="460"/>
<line x1="490.5" y1="40" x2="490.5" y2="460"/>
<line x1="580.5" y1="40" x2="580.5" y2="460"/>
<line x1="670.5" y1="40" x2="670.5" y2="460"/>
</g>
<rect x="40.5" y="40.5" width="720" height="420" fill="none" stroke="#000" stroke-width="1"/>
<g stroke="#000" stroke-width="1">
<line x1="40.5" y1="460" x2="40.5" y2="463"/>
<line x1="70.5" y1="460" x2="70.5" y2="463"/>
<line x1="100.5" y1="460" x2="100.5" y2="463"/>
<line x1="130.5" y1="460" x2="130.5" y2="463"/>
<line x1="160.5" y1="460" x2="160.5" y2="463"/>
<line x1="190.5" y1="460" x2="190.5" y2="463"/>
<line x1="220.5" y1="460" x2="220.5" y2="463"/>
<line x1="250.5" y1="460" x2="250.5" y2="463"/>
<line x1="280.5" y1="460" x2="280.5" y2="463"/>
<line x1="310.5" y1="460" x2="310.5" y2="463"/>
<line x1="340.5" y1="460" x2="340.5" y2="463"/>
<line x1="370.5" y1="460" x2="370.5" y2="463"/>
<line x1="400.5" y1="460" x2="400.5" y2="463"/>
<line x1="430.5" y1="460" x2="430.5" y2="463"/>
<line x1="460.5" y1="460" x2="460.5" y2="463"/>
<line x1="490.5" y1="460" x2="490.5" y2="463"/>
<line x1="520.5" y1="460" x2="520.5" y2="463"/>
<line x1="550.5" y1="460" x2="550.5" y2="463"/>
<line x1="580.5" y1="460" x2="580.5" y2="463"/>
<line x1="610.5" y1="460" x2="610.5" y2="463"/>
<line x1="640.5" y1="460" x2="640.5" y2="463"/>
<line x1="670.5" y1="460" x2="670.5" y2="463"/>
<line x1="700.5" y1="460" x2="700.5" y2="463"/>
<line x1="730.5" y1="460" x2="730.5" y2="463"/>
<line x1="760.5" y1="460" x2="760.5" y2="463"/>
</g>
<text x="37" y="50" text-anchor="end">m/s</text>
<text x="36" y="454" text-anchor="end">0,0</text>
<text x="36" y="419" text-anchor="end">0,5</text>
<text x="36" y="383" text-anchor="end">1,0</text>
<text x="36" y="348" text-anchor="end">1,5</text>
<text x="36" y="313" text-anchor="end">2,0</text>
<text x="36" y="277" text-anchor="end">2,5</text>
<text x="36" y="242" text-anchor="end">3,0</text>
<text x="36" y="207" text-anchor="end">3,5</text>
<text x="36" y="171" text-anchor="end">4,0</text>
<text x="36" y="136" text-anchor="end">4,5</text>
<text x="36" y="100" text-anchor="end">5,0</text>
<text x="36" y="65" text-anchor="end">5,5</text>
<text x="40.5" y="479" text-anchor="middle">00:00</text>
<text x="41.0" y="494" text-anchor="middle" textLength="43.8" lengthAdjust="spacing">10.10.18</text>
<text x="130.5" y="479" text-anchor="middle">03:00</text>
<text x="131.0" y="494" text-anchor="middle" textLength="43.8" lengthAdjust="spacing">10.10.18</text>
<text x="220.5" y="479" text-anchor="middle">06:00</text>
<text x="221.0" y="494" text-anchor="middle" textLength="43.8" lengthAdjust="spacing">10.10.18</text>
<text x="310.5" y="479" text-anchor="middle">09:00</text>
<text x="311.0" y="494" text-anchor="middle" textLength="43.8" lengthAdjust="spacing">10.10.18</text>
<text x="400.5" y="479" text-anchor="middle">12:00</text>
<text x="401.0" y="494" text-anchor="middle" textLength="43.8" lengthAdjust="spacing">10.10.18</text>
<text x="490.5" y="479" text-anchor="middle">15:00</text>
<text x="491.0" y="494" text-anchor="middle" textLength="43.8" lengthAdjust="spacing">10.10.18</text>
<text x="580.5" y="479" text-anchor="middle">18:00</text>
<text x="581.0" y="494" text-anchor="middle" textLength="43.8" lengthAdjust="spacing">10.10.18</text>
<text x="670.5" y="479" text-anchor="middle">21:00</text>
<text x="671.0" y="494" text-anchor="middle" textLength="43.8" lengthAdjust="spacing">10.10.18</text>
<text x="760.5" y="479" text-anchor="middle">00:00</text>
<text x="761.0" y="494" text-anchor="middle" textLength="43.8" lengthAdjust="spacing">11.10.18</text>
</svg>
</body></html>
